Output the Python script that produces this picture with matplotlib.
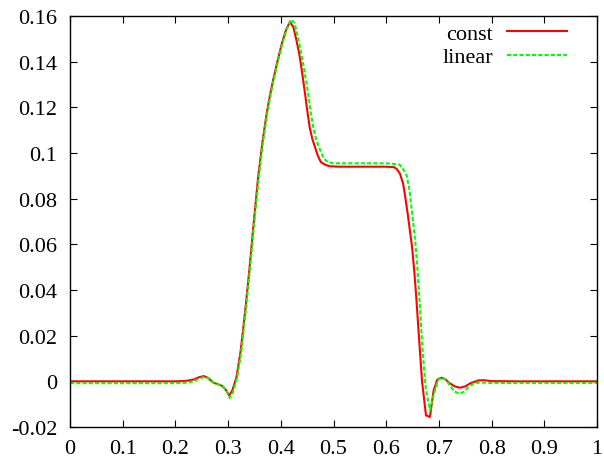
import matplotlib
matplotlib.use("Agg")
import matplotlib.pyplot as plt
from matplotlib.ticker import FuncFormatter, MultipleLocator

plt.rcParams['font.family'] = ['Liberation Serif', 'DejaVu Serif']
plt.rcParams['axes.unicode_minus'] = False

# piecewise-constant reconstruction
x_const = [0.0, 0.1, 0.2, 0.22, 0.235, 0.245, 0.254, 0.262, 0.272, 0.28, 0.288,
           0.295, 0.302, 0.308, 0.316, 0.324, 0.332, 0.34, 0.348, 0.357, 0.365,
           0.373, 0.38, 0.386, 0.394, 0.402, 0.41, 0.4175, 0.424, 0.43, 0.435,
           0.44, 0.446, 0.45, 0.455, 0.46, 0.465, 0.47, 0.476, 0.485, 0.493,
           0.51, 0.55, 0.6, 0.615, 0.62, 0.626, 0.632, 0.636, 0.641, 0.645,
           0.649, 0.653, 0.657, 0.662, 0.668, 0.6755, 0.683, 0.69, 0.697, 0.705,
           0.713, 0.72, 0.73, 0.74, 0.75, 0.76, 0.775, 0.785, 0.8, 0.85, 0.9, 1.0]
y_const = [0.0, 0.0, 0.0, 0.0002, 0.0008, 0.0018, 0.0023, 0.0015, -0.0006, -0.0012, -0.0019,
           -0.0035, -0.0062, -0.004, 0.0019, 0.0136, 0.030, 0.048, 0.068, 0.0894, 0.1045,
           0.117, 0.126, 0.1325, 0.1405, 0.148, 0.154, 0.1575, 0.155, 0.149, 0.1435,
           0.136, 0.126, 0.119, 0.111, 0.106, 0.1025, 0.099, 0.096, 0.0948, 0.0942,
           0.094, 0.094, 0.094, 0.0938, 0.093, 0.091, 0.0867, 0.081, 0.073, 0.066,
           0.059, 0.049, 0.037, 0.02, 0.0, -0.0149, -0.0156, -0.004, 0.0008, 0.0016,
           0.0008, -0.0008, -0.0022, -0.0028, -0.0022, -0.0008, 0.0004, 0.0005, 0.0001, 0.0, 0.0, 0.0]

# piecewise-linear reconstruction
x_linear = [0.0, 0.1, 0.2, 0.22, 0.235, 0.245, 0.256, 0.264, 0.274, 0.282, 0.29,
            0.297, 0.303, 0.309, 0.317, 0.325, 0.333, 0.341, 0.349, 0.358, 0.366,
            0.374, 0.381, 0.387, 0.395, 0.403, 0.411, 0.419, 0.426, 0.432, 0.438,
            0.444, 0.452, 0.456, 0.461, 0.466, 0.471, 0.476, 0.482, 0.49, 0.5,
            0.52, 0.55, 0.6, 0.625, 0.632, 0.639, 0.644, 0.648, 0.652, 0.655,
            0.659, 0.664, 0.669, 0.675, 0.683, 0.69, 0.698, 0.706, 0.714, 0.722,
            0.73, 0.739, 0.748, 0.757, 0.767, 0.777, 0.79, 0.8, 0.85, 0.9, 1.0]
y_linear = [-0.0008, -0.0008, -0.0008, -0.0006, 0.0, 0.0012, 0.002, 0.0013, -0.0008, -0.0014, -0.0022,
            -0.004, -0.0073, -0.005, 0.0015, 0.013, 0.030, 0.048, 0.068, 0.089, 0.1045,
            0.117, 0.126, 0.1325, 0.1405, 0.148, 0.154, 0.1584, 0.157, 0.151, 0.1445,
            0.137, 0.126, 0.119, 0.112, 0.107, 0.1035, 0.1005, 0.0975, 0.096, 0.0955,
            0.0955, 0.0955, 0.0955, 0.095, 0.093, 0.090, 0.084, 0.076, 0.068, 0.0617,
            0.05, 0.033, 0.0136, -0.003, -0.0127, -0.006, 0.0005, 0.0017, 0.0006, -0.0022,
            -0.0045, -0.0054, -0.0045, -0.0022, -0.0008, -0.0005, -0.0006, -0.0007, -0.0007, -0.0007, -0.0007]

fig = plt.figure(figsize=(6.04, 4.6), dpi=100)
ax = fig.add_axes([70 / 604, 1 - 428 / 460, 527 / 604, 411 / 460])

ax.plot(x_const, y_const, color='#ff0000', lw=1.5, label='const')
ax.plot(x_linear, y_linear, color='#00ff00', lw=1.5, dashes=(2, 1), label='linear')

ax.set_xlim(0, 1)
ax.set_ylim(-0.02, 0.16)
ax.xaxis.set_major_locator(MultipleLocator(0.1))
ax.yaxis.set_major_locator(MultipleLocator(0.02))
fmt = FuncFormatter(lambda v, p: '%g' % round(v, 6))
ax.xaxis.set_major_formatter(fmt)
ax.yaxis.set_major_formatter(fmt)
ax.tick_params(direction='in', top=True, right=True, length=5, width=0.8,
               labelsize=16)
ax.tick_params(axis='x', pad=9)
ax.tick_params(axis='y', pad=9)
for s in ax.spines.values():
    s.set_linewidth(1.0)

ax.legend(loc='upper right', bbox_to_anchor=(0.976, 1.025), frameon=False,
          markerfirst=False, fontsize=16, handlelength=2.7, handletextpad=0.6,
          labelspacing=0.12, borderpad=0.3)

fig.savefig('out.png', dpi=100)
